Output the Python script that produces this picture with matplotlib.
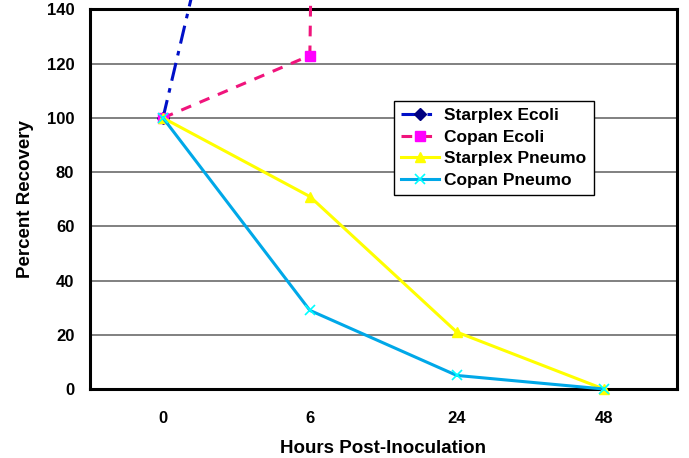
#plot.py
"""Percent recovery over time for four swab/organism combinations."""

import matplotlib
matplotlib.use('Agg')
import matplotlib.pyplot as plt
from matplotlib.lines import Line2D

plt.rcParams['font.family'] = ['Liberation Sans', 'DejaVu Sans']
plt.rcParams['font.weight'] = 'bold'
plt.rcParams['axes.labelweight'] = 'bold'

#data (Ecoli series run off the top of the chart)
hours = ['0', '6', '24', '48']
starplex_ecoli = [100, 330, 1500, 2000]
copan_ecoli = [100, 123, 4000, 5000]
starplex_pneumo = [100, 71, 21, 0]
copan_pneumo = [100, 29, 5, 0]

fig = plt.figure(figsize=(6.89, 4.58), dpi=100)
ax = fig.add_axes([0.130, 0.1507, 0.8526, 0.8286])

x = list(range(len(hours)))

#series styling roughly like an old Excel line chart
ax.plot(x, starplex_ecoli, color='#0010C8', lw=2.2, dashes=(6, 2.5, 1.5, 2.5),
        marker='D', ms=6, mfc='#000080', mec='#000080', clip_on=False, zorder=3)
ax.plot(x, copan_ecoli, color='#F0147C', lw=2.2, dashes=(3.5, 3),
        marker='s', ms=7, mfc='#FF00FF', mec='#FF00FF', clip_on=False, zorder=3)
ax.plot(x, starplex_pneumo, color='#FFFF00', lw=2.2,
        marker='^', ms=7, mfc='#FFFF00', mec='#FFFF00', clip_on=False, zorder=3)
ax.plot(x, copan_pneumo, color='#00A8E8', lw=2.2,
        marker='x', ms=7, mec='#00FFFF', mew=1.2, clip_on=False, zorder=3)

ax.set_xlim(-0.5, 3.5)
ax.set_ylim(0, 140)
ax.set_xticks(x)
ax.set_xticklabels(hours)
ax.set_yticks(range(0, 141, 20))

ax.yaxis.grid(True, color='#808080', lw=1.4)
ax.set_axisbelow(True)
for side in ['left', 'bottom', 'top', 'right']:
    ax.spines[side].set_linewidth(2.2)
    ax.spines[side].set_color('black')

ax.tick_params(axis='y', length=0, pad=11, labelsize=12)
ax.tick_params(axis='x', length=0, pad=16, labelsize=12)

ax.set_xlabel('Hours Post-Inoculation', fontsize=13.5, labelpad=10)
ax.set_ylabel('Percent Recovery', fontsize=13.5, labelpad=9)

#legend built from proxy handles so markers sit in the middle
handles = [
    Line2D([], [], color='#0010C8', lw=2.2, dashes=(6, 2.5, 1.5, 2.5),
           marker='D', ms=6, mfc='#000080', mec='#000080'),
    Line2D([], [], color='#F0147C', lw=2.2, dashes=(3.5, 3),
           marker='s', ms=7, mfc='#FF00FF', mec='#FF00FF'),
    Line2D([], [], color='#FFFF00', lw=2.2,
           marker='^', ms=7, mfc='#FFFF00', mec='#FFFF00'),
    Line2D([], [], color='#00A8E8', lw=2.2,
           marker='x', ms=7, mec='#00FFFF', mew=1.2),
]
labels = ['Starplex Ecoli', 'Copan Ecoli', 'Starplex Pneumo', 'Copan Pneumo']
leg = fig.legend(handles, labels, loc='upper left',
                 bbox_to_anchor=(0.572, 0.780), fontsize=12.5,
                 frameon=True, fancybox=False, framealpha=1,
                 edgecolor='black', handlelength=2.2, handletextpad=0.3,
                 labelspacing=0.38, borderpad=0.4, borderaxespad=0)
leg.get_frame().set_linewidth(1.0)

plt.savefig('out.png', dpi=100)
